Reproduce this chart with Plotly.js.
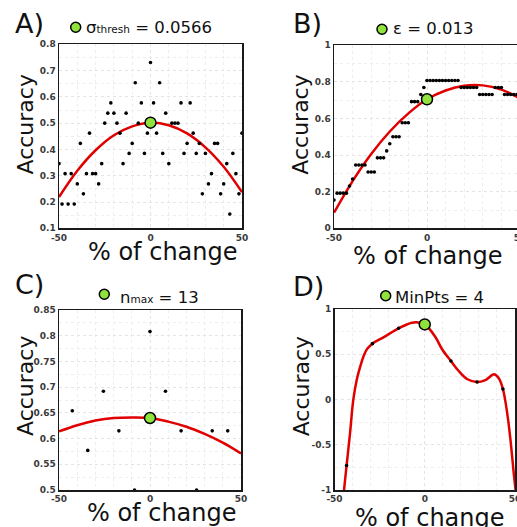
<!DOCTYPE html>
<html>
<head>
<meta charset="utf-8">
<script src="https://cdn.plot.ly/plotly-3.0.1.min.js"></script>
<style>
  html, body { margin: 0; padding: 0; overflow: hidden; background: #fff; width: 517px; height: 527px; }
  #chart { width: 530px; height: 540px; }
</style>
</head>
<body>
<div id="chart"></div>
<script>
// Percent change of each parameter around its chosen value
const stepPct = [-50, -48.33, -46.67, -45, -43.33, -41.67, -40, -38.33, -36.67, -35, -33.33, -31.67, -30,
  -28.33, -26.67, -25, -23.33, -21.67, -20, -18.33, -16.67, -15, -13.33, -11.67, -10, -8.33, -6.67, -5,
  -3.33, -1.67, 0, 1.67, 3.33, 5, 6.67, 8.33, 10, 11.67, 13.33, 15, 16.67, 18.33, 20, 21.67, 23.33, 25,
  26.67, 28.33, 30, 31.67, 33.33, 35, 36.67, 38.33, 40, 41.67, 43.33, 45, 46.67, 48.33, 50];

// A) sigma_thresh sweep
const accSigma = [0.346, 0.192, 0.308, 0.192, 0.308, 0.192, 0.269, 0.423, 0.231, 0.308, 0.462, 0.308, 0.308,
  0.269, 0.346, 0.5, 0.538, 0.577, 0.538, 0.5, 0.462, 0.346, 0.538, 0.385, 0.423, 0.654, 0.5, 0.577,
  0.385, 0.462, 0.731, 0.577, 0.462, 0.654, 0.385, 0.538, 0.346, 0.5, 0.5, 0.5, 0.577, 0.385, 0.423,
  0.577, 0.462, 0.385, 0.423, 0.231, 0.385, 0.269, 0.308, 0.423, 0.423, 0.231, 0.269, 0.346, 0.154,
  0.385, 0.308, 0.231, 0.462];

// B) epsilon sweep
const accEps = [0.154, 0.192, 0.192, 0.192, 0.192, 0.231, 0.269, 0.346, 0.346, 0.346, 0.346, 0.308, 0.308,
  0.308, 0.385, 0.385, 0.385, 0.423, 0.462, 0.5, 0.5, 0.5, 0.577, 0.577, 0.577, 0.692, 0.692, 0.692,
  0.731, 0.769, 0.808, 0.808, 0.808, 0.808, 0.808, 0.808, 0.808, 0.808, 0.808, 0.808, 0.808, 0.769,
  0.769, 0.769, 0.769, 0.769, 0.769, 0.731, 0.731, 0.731, 0.731, 0.731, 0.769, 0.769, 0.769, 0.731,
  0.731, 0.731, 0.731, 0.731, 0.731];

// C) n_max sweep
const nPct = [-42.7, -34.2, -25.6, -17.1, -8.5, 0, 8.5, 17.1, 25.6, 34.2, 42.7];
const accN = [0.654, 0.577, 0.692, 0.615, 0.5, 0.808, 0.692, 0.615, 0.5, 0.615, 0.615];

// D) MinPts sweep
const minPtsPct = [-43.3, -29, -14.5, 0, 14.5, 29, 43.3];
const accMinPts = [-0.73, 0.617, 0.787, 0.83, 0.425, 0.193, 0.116];

// Fitted trend curves
const fitPct = [-50, -40, -30, -20, -10, 0, 10, 20, 30, 40, 50];
const fitSigma = [0.219, 0.319, 0.397, 0.454, 0.488, 0.502, 0.492, 0.461, 0.408, 0.334, 0.2375];
const fitEps = [0.085, 0.258, 0.406, 0.529, 0.628, 0.705, 0.753, 0.779, 0.781, 0.758, 0.71];
const fitN = [0.614, 0.626, 0.635, 0.640, 0.641, 0.640, 0.633, 0.623, 0.609, 0.592, 0.571];
const fitMinPtsPct = [-45.3, -44.7, -43.3, -41.4, -39.6, -37.7, -35.8, -34.0, -32.1, -29.0, -22.9, -14.5,
  -7.1, -2.5, 0, 5.8, 9.6, 14.5, 18.8, 23.4, 29.0, 33.6, 38.4, 41.0, 43.3, 45.7, 47.5, 49.3, 50.3, 50.6];
const fitMinPts = [-1.15, -1.0, -0.73, -0.374, -0.005, 0.215, 0.36, 0.473, 0.554, 0.617, 0.687, 0.787,
  0.849, 0.849, 0.83, 0.694, 0.555, 0.425, 0.315, 0.227, 0.193, 0.215, 0.278, 0.235, 0.116, -0.153,
  -0.448, -0.815, -1.0, -1.06];

// Accuracy at the chosen parameter value (0 % change)
const chosenAcc = [0.502, 0.705, 0.640, 0.83];

const panelLetters = ['A)', 'B)', 'C)', 'D)'];
const paramLabels = [
  'σ<span style="font-size:10.5px">thresh</span> = 0.0566',
  'ε = 0.013',
  'n<span style="font-size:10.5px">max</span> = 13',
  'MinPts = 4'
];
const xTitle = '% of change';
const yTitle = 'Accuracy';

const xTickVals = [-50, 0, 50];
const xTickText = ['-50', '0', '50'];
const yTickValsA = [0.1, 0.2, 0.3, 0.4, 0.5, 0.6, 0.7, 0.8];
const yTickTextA = ['0.1', '0.2', '0.3', '0.4', '0.5', '0.6', '0.7', '0.8'];
const yTickValsB = [0, 0.2, 0.4, 0.6, 0.8, 1];
const yTickTextB = ['0', '0.2', '0.4', '0.6', '0.8', '1'];
const yTickValsC = [0.5, 0.55, 0.6, 0.65, 0.7, 0.75, 0.8, 0.85];
const yTickTextC = ['0.5', '0.55', '0.6', '0.65', '0.7', '0.75', '0.8', '0.85'];
const yTickValsD = [-1, -0.5, 0, 0.5, 1];
const yTickTextD = ['-1', '-0.5', '0', '0.5', '1'];

// ---- layout helpers (pixel -> paper) ----
const W = 530, H = 540;
const px = v => v / W;
const py = v => 1 - v / H;

const RED = '#e00000';
const GREEN = '#8fe33c';
const FONT = 'DejaVu Sans';

const panels = [
  { x: fitPct, y: fitSigma, sx: stepPct, sy: accSigma, xa: 'x', ya: 'y' },
  { x: fitPct, y: fitEps, sx: stepPct, sy: accEps, xa: 'x2', ya: 'y2' },
  { x: fitPct, y: fitN, sx: nPct, sy: accN, xa: 'x3', ya: 'y3' },
  { x: fitMinPtsPct, y: fitMinPts, sx: minPtsPct, sy: accMinPts, xa: 'x4', ya: 'y4' }
];

const traces = [];
panels.forEach((p, i) => {
  traces.push({
    type: 'scatter', mode: 'lines', x: p.x, y: p.y, xaxis: p.xa, yaxis: p.ya,
    line: { color: RED, width: 2.5, shape: 'spline', smoothing: 1 }, hoverinfo: 'skip', showlegend: false
  });
  traces.push({
    type: 'scatter', mode: 'markers', x: p.sx, y: p.sy, xaxis: p.xa, yaxis: p.ya,
    marker: { color: '#000', size: 3.6 }, showlegend: false
  });
  traces.push({
    type: 'scatter', mode: 'markers', x: [0], y: [chosenAcc[i]], xaxis: p.xa, yaxis: p.ya,
    marker: { color: GREEN, size: 11, line: { color: '#000', width: 1.5 } }, showlegend: false
  });
});

function xAxis(domain, anchor) {
  return {
    domain: domain, anchor: anchor, range: [-50, 50], tickmode: 'array',
    tickvals: xTickVals, ticktext: xTickText,
    showline: true, mirror: true, linecolor: '#1a1a1a', linewidth: 1.5, ticks: '',
    showgrid: true, gridcolor: '#e4e4e4', griddash: 'dot', zeroline: false,
    minor: { dtick: 10, tick0: 0, showgrid: true, gridcolor: '#eeeeee', griddash: 'dot' },
    tickfont: { family: FONT, size: 9, color: '#3a3a3a', weight: 'bold' }
  };
}
function yAxis(domain, anchor, range, vals, text, minorStep) {
  return {
    domain: domain, anchor: anchor, range: range, tickmode: 'array',
    tickvals: vals, ticktext: text,
    showline: true, mirror: true, linecolor: '#1a1a1a', linewidth: 1.5, ticks: '',
    showgrid: true, gridcolor: '#e4e4e4', griddash: 'dot', zeroline: false,
    minor: { dtick: minorStep, tick0: 0, showgrid: true, gridcolor: '#eeeeee', griddash: 'dot' },
    tickfont: { family: FONT, size: 9, color: '#3a3a3a', weight: 'bold' }
  };
}

// plot-area boxes in pixels: [left, right, top, bottom]
const boxA = [59, 242, 44.3, 228.3];
const boxB = [334, 520, 45.3, 228.3];
const boxC = [59, 241, 310, 490];
const boxD = [334.5, 515, 309, 490];
const xd = b => [px(b[0]), px(b[1])];
const yd = b => [py(b[3]), py(b[2])];

const annotations = [];
const shapes = [];
function txt(text, x, y, size, opts) {
  annotations.push(Object.assign({
    text: text, xref: 'paper', yref: 'paper', x: px(x), y: py(y), showarrow: false,
    xanchor: 'center', yanchor: 'middle', font: { family: FONT, size: size, color: '#111' }
  }, opts || {}));
}

const letterPos = [[13, 23], [291, 23], [13, 284], [291, 286]];
const markPos = [[75.7, 27.3], [382, 29.3], [104.3, 294.3], [385.7, 295.7]];
const labelPos = [[84, 27.5], [391, 29], [118, 297], [393, 297]];
const yTitlePos = [[25, 124.5], [299.7, 125], [25, 386], [301.3, 386]];
const xTitlePos = [[162.5, 252], [428, 256], [161.7, 513], [430, 518]];

for (let i = 0; i < 4; i++) {
  txt(panelLetters[i], letterPos[i][0], letterPos[i][1], 27, { xanchor: 'left' });
  txt(paramLabels[i], labelPos[i][0], labelPos[i][1], 16.5, { xanchor: 'left' });
  txt(yTitle, yTitlePos[i][0], yTitlePos[i][1], 22, { textangle: -90 });
  txt(xTitle, xTitlePos[i][0], xTitlePos[i][1], 24);
  shapes.push({
    type: 'circle', xref: 'paper', yref: 'paper', xsizemode: 'pixel', ysizemode: 'pixel',
    xanchor: px(markPos[i][0]), yanchor: py(markPos[i][1]), x0: -5, x1: 5, y0: -5, y1: 5,
    fillcolor: GREEN, line: { color: '#000', width: 1.5 }
  });
}

const layout = {
  width: W, height: H, margin: { l: 0, r: 0, t: 0, b: 0 },
  paper_bgcolor: '#fff', plot_bgcolor: '#fff', showlegend: false,
  xaxis: xAxis(xd(boxA), 'y'),
  yaxis: yAxis(yd(boxA), 'x', [0.1, 0.8], yTickValsA, yTickTextA, 0.05),
  xaxis2: xAxis(xd(boxB), 'y2'),
  yaxis2: yAxis(yd(boxB), 'x2', [0, 1], yTickValsB, yTickTextB, 0.1),
  xaxis3: xAxis(xd(boxC), 'y3'),
  yaxis3: yAxis(yd(boxC), 'x3', [0.5, 0.85], yTickValsC, yTickTextC, 0.025),
  xaxis4: xAxis(xd(boxD), 'y4'),
  yaxis4: yAxis(yd(boxD), 'x4', [-1, 1], yTickValsD, yTickTextD, 0.25),
  annotations: annotations,
  shapes: shapes
};

Plotly.newPlot('chart', traces, layout, { displayModeBar: false, staticPlot: true });
</script>
</body>
</html>
